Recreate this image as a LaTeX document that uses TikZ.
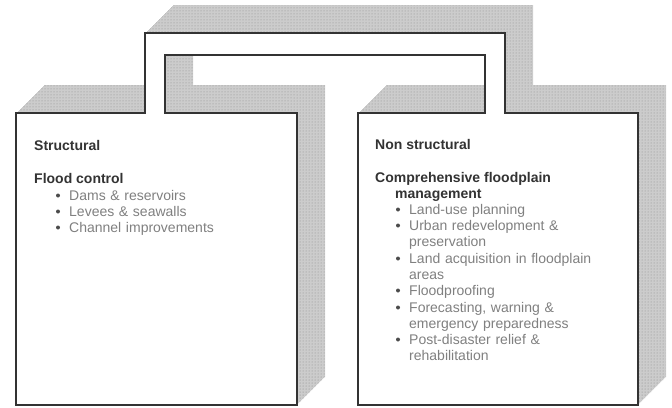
\documentclass[tikz,border=0pt]{standalone}
\usepackage{fontspec}
\setmainfont{Liberation Sans}
\usepackage{tikz}
\usetikzlibrary{patterns}

\newcommand\floodoutline{(16,405) -- (16,113) -- (145,113) -- (145,33) -- (505,33) -- (505,113)
  -- (638,113) -- (638,405) -- (358,405) -- (358,113) -- (485,113) -- (485,55) -- (165,55)
  -- (165,113) -- (297,113) -- (297,405) -- cycle}

\tikzset{
  shadowface/.style = {fill = black!20},
  shadowdots/.style = {pattern = dots, pattern color = black!45},
  frontface/.style = {fill = white, draw = black!80, line width = 1.2pt},
  headtext/.style = {anchor = base west, inner sep = 0pt, text = black!80,
    font = \fontsize{14}{16.3}\selectfont\bfseries},
  itemtext/.style = {anchor = base west, inner sep = 0pt, text = black!50,
    text width = 220pt, align = left, font = \fontsize{14}{16.3}\selectfont},
  bulletdot/.style = {fill = black!70}
}

\begin{document}
\begin{tikzpicture}[x = 1pt, y = -1pt]
  \useasboundingbox (0,0) rectangle (672,407);

  \foreach \d in {0,...,28} {
    \fill [shadowface, shift = {(\d,-\d)}] \floodoutline;
    \fill [shadowdots, shift = {(\d,-\d)}] \floodoutline;
  }
  \draw [frontface] \floodoutline;

  \node [headtext] (structural) at (34,150) {Structural};
  \node [headtext] (floodcontrol) at (34,183) {Flood control};
  \foreach \nm/\yy/\txt in {dams/200/{Dams \& reservoirs}, levees/216/{Levees \& seawalls},
      channel/232/{Channel improvements}} {
    \node [itemtext] (\nm) at (69,\yy) {\txt};
    \fill [bulletdot] (58,\yy-4.5) circle (2pt);
  }

  \node [headtext] (nonstructural) at (375,149) {Non structural};
  \node [headtext] (comprehensive) at (375,182) {Comprehensive floodplain};
  \node [headtext] (management) at (395,198) {management};
  \foreach \nm/\yy/\txt in {landuse/214/{Land-use planning},
      urban/230/{Urban redevelopment \&\\preservation},
      acquisition/263/{Land acquisition in floodplain\\areas},
      floodproofing/295/{Floodproofing},
      forecasting/312/{Forecasting, warning \&\\emergency preparedness},
      postdisaster/344/{Post-disaster relief \&\\rehabilitation}} {
    \node [itemtext] (\nm) at (409,\yy) {\txt};
    \fill [bulletdot] (398,\yy-4.5) circle (2pt);
  }
\end{tikzpicture}
\end{document}
